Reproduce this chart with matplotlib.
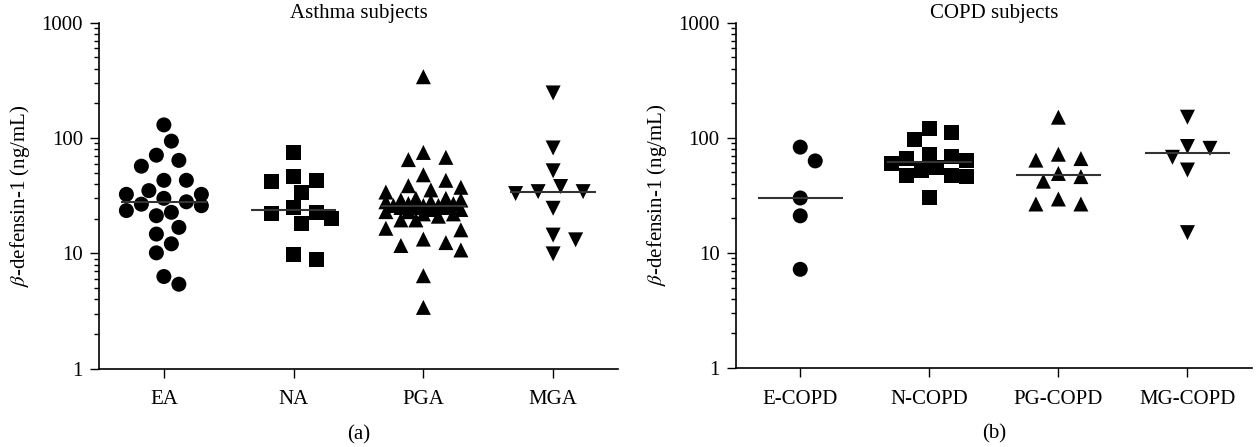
"""Beta-defensin-1 scatter plots for asthma and COPD subject groups."""

import matplotlib
import numpy as np

matplotlib.use("Agg")
import matplotlib.pyplot as plt  # noqa: E402
from matplotlib.ticker import LogLocator, NullFormatter  # noqa: E402

plt.rcParams["font.family"] = ["Liberation Serif", "DejaVu Serif"]
plt.rcParams["mathtext.fontset"] = "stix"

# Values (ng/mL).
asthma_groups = ["EA", "NA", "PGA", "MGA"]
ea = [130, 94, 71, 64, 57, 43, 43, 35, 32.5, 32.5, 30, 28, 26.7, 25.9,
      23.5, 22.7, 21.2, 16.8, 14.7, 12.1, 10.1, 6.3, 5.4]
na = [75, 46, 43, 42, 34, 25, 22.5, 22, 20, 18, 9.8, 8.8]
pga = [340, 75, 68, 65, 48, 43, 38.6, 37.4, 35.5, 34,
       30, 30, 29, 29, 28, 28, 27, 27, 26, 26, 26, 25, 25, 24, 24,
       23, 23, 22, 22, 21, 25,
       19.5, 19.5, 16.5, 16, 13.3, 12.4, 11.7, 10.7, 6.4, 3.4]
mga = [246, 82, 52, 38, 34.3, 34.3, 33, 24.6, 14.4, 13.1, 9.9]

copd_groups = ["E-COPD", "N-COPD", "PG-COPD", "MG-COPD"]
e_copd = [83, 63, 30, 21, 7.2]
n_copd = [121, 111, 97, 71, 68.5, 66, 64, 60, 55, 52.5, 47.5, 47.5, 46, 30]
pg_copd = [151, 72, 66, 64, 49, 46, 42, 29.4, 26.6, 26.6]
mg_copd = [151, 84, 81, 67.7, 52.5, 15]

markers = ["o", "s", "^", "v"]
W, H = 1257, 447
MARKER_PX = 15


def swarm_offsets(ax, values, size_px, max_half=0.33):
    """Greedy beeswarm: horizontal offsets (data units) that limit overlap."""
    values = np.asarray(values, dtype=float)
    px_per_unit = ax.transData.transform((1, 1))[0] - ax.transData.transform((0, 1))[0]
    step = 0.5 * size_px / px_per_unit
    candidates = [0.0]
    for k in range(1, int(max_half / step) + 1):
        candidates += [k * step, -k * step]
    placed = []
    offsets = np.zeros(len(values))
    for i in np.argsort(values)[::-1]:
        ypx = ax.transData.transform((0, values[i]))[1]
        best, best_d = 0.0, -1.0
        for off in candidates:
            xpx = off * px_per_unit
            d = min((np.hypot(xpx - px, ypx - py) for px, py in placed), default=np.inf)
            if d >= size_px * 1.1:
                best = off
                break
            if d > best_d:
                best, best_d = off, d
        offsets[i] = best
        placed.append((best * px_per_unit, ypx))
    return offsets


def draw_panel(ax, names, groups, title, tag):
    ax.set_yscale("log")
    ax.set_ylim(1, 1000)
    ax.set_xlim(-0.5, 3.5)
    for i, (vals, marker) in enumerate(zip(groups, markers)):
        offs = swarm_offsets(ax, vals, MARKER_PX)
        ax.scatter(i + offs, vals, marker=marker, s=(MARKER_PX * 0.72) ** 2,
                   color="black", edgecolors="none", zorder=3, clip_on=False)
        ax.hlines(np.median(vals), i - 0.33, i + 0.33, color="#333333",
                  lw=1.5, zorder=4)
    ax.set_xticks(range(len(names)))
    ax.set_xticklabels(names)
    ax.set_yticks([1, 10, 100, 1000])
    ax.set_yticklabels(["1", "10", "100", "1000"])
    ax.yaxis.set_minor_locator(LogLocator(base=10, subs=np.arange(2, 10)))
    ax.yaxis.set_minor_formatter(NullFormatter())
    ax.tick_params(axis="both", which="major", labelsize=15, length=6.5,
                   width=1, direction="out", pad=5)
    ax.tick_params(axis="x", pad=9)
    ax.tick_params(axis="y", which="minor", length=3.5, width=1, direction="out")
    for side in ("top", "right"):
        ax.spines[side].set_visible(False)
    for side in ("left", "bottom"):
        ax.spines[side].set_linewidth(1.2)
    ax.set_ylabel(r"$\beta$-defensin-1 (ng/mL)", fontsize=15, labelpad=7)
    ax.set_title(title, fontsize=15, pad=-5)
    ax.text(0.5, -0.19, tag, transform=ax.transAxes, ha="center", va="center",
            fontsize=15)


fig = plt.figure(figsize=(W / 100, H / 100), dpi=100)
ax_a = fig.add_axes([99 / W, 1 - 368.7 / H, (618 - 99) / W, (368.7 - 22.7) / H])
ax_b = fig.add_axes([735.7 / W, 1 - 368 / H, (1252 - 735.7) / W, (368 - 22.7) / H])

draw_panel(ax_a, asthma_groups, [ea, na, pga, mga], "Asthma subjects", "(a)")
draw_panel(ax_b, copd_groups, [e_copd, n_copd, pg_copd, mg_copd], "COPD subjects", "(b)")

fig.savefig("out.png", dpi=100)
